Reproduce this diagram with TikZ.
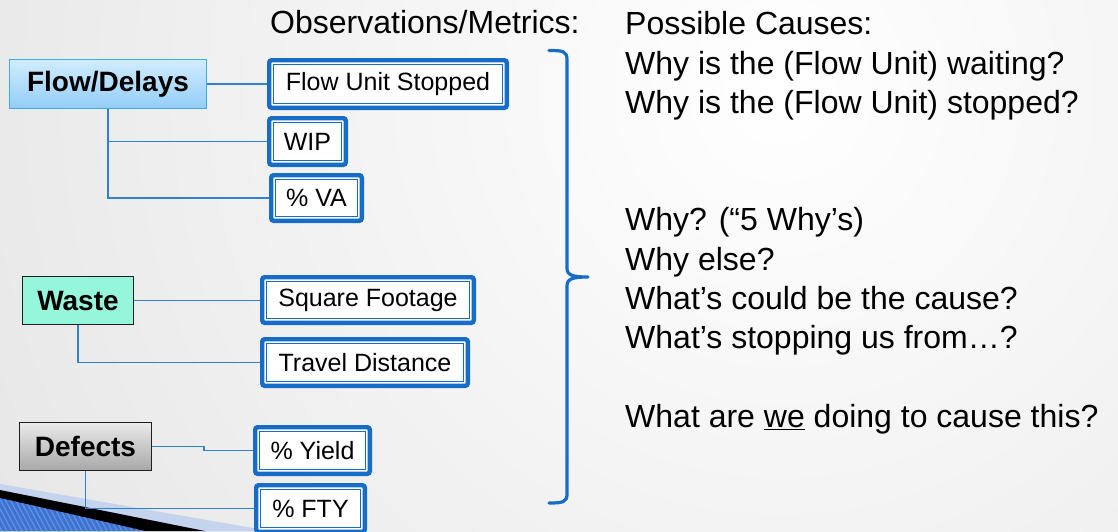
\documentclass[tikz,border=0pt]{standalone}
\usepackage{fontspec}
\setmainfont{Liberation Sans}
\usetikzlibrary{calc}
\definecolor{mblue}{RGB}{22,108,198}
\definecolor{lblue}{RGB}{48,128,212}
\definecolor{flowtop}{RGB}{208,236,252}
\definecolor{flowbot}{RGB}{148,205,249}
\definecolor{flowedge}{RGB}{56,174,228}
\definecolor{wastefill}{RGB}{150,246,220}
\definecolor{deftop}{RGB}{234,234,234}
\definecolor{defbot}{RGB}{168,168,168}
\definecolor{palewedge}{RGB}{196,212,238}
\definecolor{wedgeblue}{RGB}{60,114,210}
\definecolor{wedgestripe}{RGB}{100,146,226}
\begin{document}
\begin{tikzpicture}[x=1pt,y=-1pt,
  catbox/.style={draw=black!88, line width=1.3pt, inner sep=0pt,
    font=\fontsize{28}{32}\selectfont\bfseries},
  metric/.style={draw=mblue, line width=4.4pt, fill=white, rounded corners=2.5pt,
    inner sep=0pt, font=\fontsize{25}{30}\selectfont,
    path picture={\draw[mblue, line width=1.2pt, sharp corners]
      ([shift={(4.6pt,-4.6pt)}]path picture bounding box.north west) rectangle
      ([shift={(-4.6pt,4.6pt)}]path picture bounding box.south east);}},
  link/.style={draw=lblue, line width=1.4pt},
  reason/.style={anchor=base west, inner sep=0pt, font=\fontsize{32}{38}\selectfont}
]
% page and background
\useasboundingbox (0,0) rectangle (1118,531);
\begin{scope}
  \clip (0,0) rectangle (1118,531);
  \shade[inner color=white, outer color=black!17] (780,90) circle (1600);
  % corner ornament
  \fill[palewedge] (0,484) -- (270,531) -- (0,531) -- cycle;
  \fill[black] (0,490) -- (205,531) -- (0,531) -- cycle;
  \begin{scope}
    \clip (0,498) -- (145,531) -- (0,531) -- cycle;
    \fill[wedgeblue] (0,490) rectangle (160,531);
    \foreach \i in {-30,-25,...,170}
      \draw[wedgestripe, line width=1.2pt] (\i,490) -- (\i+22,531);
  \end{scope}
\end{scope}

% category boxes
\node[catbox, draw=flowedge, top color=flowtop, bottom color=flowbot,
  minimum width=196.7pt, minimum height=48.7pt] (flow) at (108,84) {Flow/Delays};
\node[catbox, fill=wastefill, minimum width=110.7pt, minimum height=47.7pt]
  (waste) at (78,300.5) {Waste};
\node[catbox, top color=deftop, bottom color=defbot,
  minimum width=131.7pt, minimum height=47.7pt] (defects) at (85.5,446.5) {Defects};

% metric boxes
\node[metric, minimum width=237.6pt, minimum height=47.6pt] (fus) at (388,84) {Flow Unit Stopped};
\node[metric, minimum width=76.6pt, minimum height=46.6pt] (wip) at (307.5,141.5) {WIP};
\node[metric, minimum width=90.6pt, minimum height=45.6pt] (va) at (316.5,198) {\% VA};
\node[metric, minimum width=211.6pt, minimum height=45.6pt] (sqf) at (368,300) {Square Footage};
\node[metric, minimum width=205.6pt, minimum height=46.6pt] (trv) at (365,362.5) {Travel Distance};
\node[metric, minimum width=114.6pt, minimum height=46.6pt] (yld) at (312.5,450.5) {\% Yield};
\node[metric, minimum width=108.6pt, minimum height=46.6pt] (fty) at (310.5,508.5) {\% FTY};

% connectors
\draw[link] (flow.east) -- (flow.east -| fus.west);
\draw[link] (flow.south) |- (wip.west);
\draw[link] (flow.south) |- (va.west);
\draw[link] (waste.east) -- (waste.east -| sqf.west);
\draw[link] (waste.south) |- (trv.west);
\coordinate (dstep) at ($(defects.east)+(52,0)$);
\draw[link] (defects.east) -- (dstep) |- (yld.west);
\draw[link] (defects.south) |- (fty.west);

% brace
\draw[mblue, line width=3.2pt, line cap=round, line join=round]
  (549,50.5) .. controls (563,50.5) and (567,51) .. (567,60) -- (567,268)
  .. controls (567,275) and (572,277) .. (588,277)
  .. controls (572,277) and (567,279) .. (567,286) -- (567,494)
  .. controls (567,502) and (563,503) .. (549,503);

% headings and questions
\node[reason] (obs) at (270,33) {Observations/Metrics:};
\node[reason] (q0) at (625,34) {Possible Causes:};
\node[reason] (q1) at (625,74) {Why is the (Flow Unit) waiting?};
\node[reason] (q2) at (625,113) {Why is the (Flow Unit) stopped?};
\node[reason] (q3) at (625,230) {Why? (“5 Why’s)};
\node[reason] (q4) at (625,270) {Why else?};
\node[reason] (q5) at (625,309) {What’s could be the cause?};
\node[reason] (q6) at (625,348) {What’s stopping us from…?};
\node[reason] (q7) at (625,427) {What are \underline{we} doing to cause this?};
\end{tikzpicture}
\end{document}
